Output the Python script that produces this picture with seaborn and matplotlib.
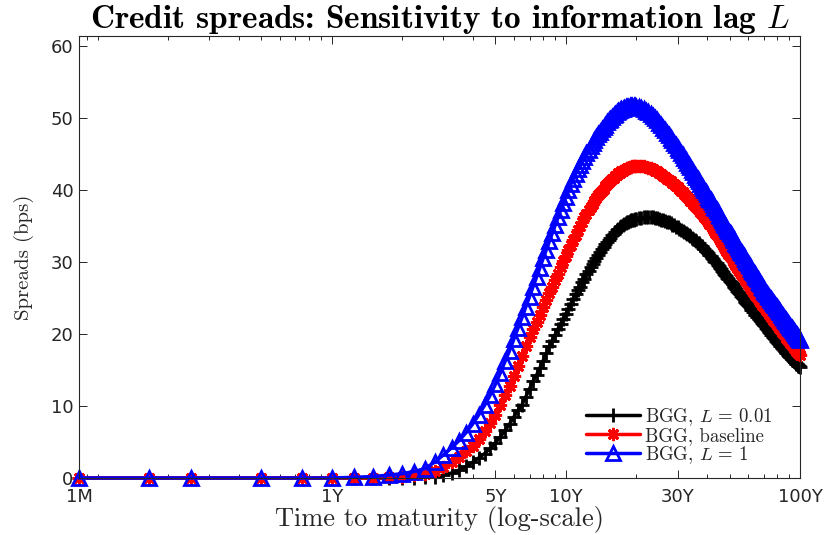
import numpy as np
import pandas as pd
import matplotlib
matplotlib.use("Agg")
import matplotlib.pyplot as plt
import seaborn as sns
from matplotlib.ticker import FixedLocator, FixedFormatter, LogLocator, NullFormatter

# ---------------- data (maturity grid in months, spreads in bps) ----------------
# grid: 1M, 2M, 3M, 6M, 9M, then quarterly to 20Y, then semi-annual to 100Y
months = [1, 2, 3, 6, 9] + list(range(12, 241, 3)) + list(range(246, 1201, 6))

spread_L001 = [
    # 1M .. 117M
    0, 0, 0, 0, 0, 0, 0, 0, 0, 0, 0, 0.1, 0.2, 0.4, 0.7, 1.1, 1.6, 2.2, 2.8, 3.4,
    4.1, 4.9, 5.7, 6.6, 7.5, 8.5, 9.4, 10.2, 11.3, 12.4, 13.5, 14.3, 15.3, 16.3, 17.3, 18.3,
    19.1, 19.9, 20.7, 21.4, 22.1,
    # 120M .. 240M (quarterly)
    22.8, 23.5, 24.2, 24.9, 25.5, 26.1, 26.6, 27.2, 27.7, 28.3,
    28.8, 29.3, 29.7, 30.2, 30.6, 31.0, 31.4, 31.8, 32.1, 32.5,
    32.8, 33.1, 33.4, 33.7, 33.9, 34.2, 34.4, 34.6, 34.8, 35.0,
    35.1, 35.3, 35.4, 35.5, 35.6, 35.7, 35.8, 35.9, 35.9, 36.0,
    36.0,
    # 20.5Y .. 100Y (semi-annual)
    36.1, 36.1, 36.2, 36.2, 36.2, 36.2, 36.2, 36.1, 36.1, 36.0,
    35.9, 35.8, 35.7, 35.6, 35.5, 35.4, 35.2, 35.1, 34.9, 34.8,
    34.6, 34.5, 34.3, 34.2, 34.0, 33.9, 33.7, 33.6, 33.4, 33.2,
    33.1, 32.9, 32.7, 32.6, 32.4, 32.2, 32.0, 31.8, 31.6, 31.4,
    31.2, 31.0, 30.8, 30.6, 30.4, 30.2, 30.0, 29.8, 29.6, 29.4,
    29.2, 29.0, 28.8, 28.6, 28.4, 28.2, 28.0, 27.8, 27.6, 27.4,
    27.2, 27.1, 26.9, 26.7, 26.5, 26.4, 26.2, 26.0, 25.8, 25.7,
    25.5, 25.3, 25.1, 25.0, 24.8, 24.6, 24.5, 24.3, 24.2, 24.0,
    23.9, 23.7, 23.6, 23.4, 23.3, 23.1, 23.0, 22.8, 22.7, 22.6,
    22.4, 22.3, 22.2, 22.1, 21.9, 21.8, 21.7, 21.6, 21.4, 21.3,
    21.2, 21.1, 20.9, 20.8, 20.7, 20.6, 20.4, 20.3, 20.2, 20.1,
    19.9, 19.8, 19.7, 19.6, 19.5, 19.4, 19.3, 19.1, 19.0, 18.9,
    18.8, 18.7, 18.6, 18.5, 18.4, 18.3, 18.2, 18.1, 18.0, 17.9,
    17.8, 17.7, 17.6, 17.5, 17.4, 17.3, 17.2, 17.1, 17.0, 16.9,
    16.8, 16.8, 16.7, 16.6, 16.5, 16.4, 16.4, 16.3, 16.2, 16.1,
    16.1, 16.0, 15.9, 15.8, 15.8, 15.7, 15.6, 15.5, 15.5, 15.4,
]

spread_base = [
    0, 0, 0, 0, 0, 0, 0, 0, 0.1, 0.2, 0.4, 0.6, 1.0, 1.5, 2.2, 2.9, 3.7, 4.4, 5.4, 6.5,
    7.6, 8.8, 10.1, 11.5, 12.8, 14.2, 15.6, 17.0, 18.4, 19.6, 20.7, 21.7, 22.7, 23.7, 24.7, 25.7,
    26.6, 27.5, 28.4, 29.3, 30.1,
    30.9, 31.7, 32.4, 33.1, 33.8, 34.4, 35.0, 35.6, 36.2, 36.7,
    37.2, 37.7, 38.1, 38.5, 38.9, 39.3, 39.6, 39.9, 40.2, 40.5,
    40.8, 41.1, 41.3, 41.5, 41.7, 41.9, 42.1, 42.3, 42.4, 42.6,
    42.7, 42.8, 42.9, 43.0, 43.1, 43.2, 43.2, 43.3, 43.3, 43.3,
    43.3,
    43.3, 43.3, 43.3, 43.2, 43.1, 43.0, 42.9, 42.7, 42.6, 42.4,
    42.2, 42.0, 41.8, 41.6, 41.4, 41.2, 41.0, 40.8, 40.6, 40.4,
    40.2, 39.9, 39.7, 39.4, 39.2, 39.0, 38.7, 38.5, 38.3, 38.1,
    37.8, 37.6, 37.4, 37.2, 36.9, 36.7, 36.5, 36.3, 36.0, 35.8,
    35.6, 35.3, 35.1, 34.8, 34.6, 34.3, 34.1, 33.8, 33.6, 33.3,
    33.1, 32.8, 32.6, 32.3, 32.1, 31.8, 31.6, 31.4, 31.1, 30.9,
    30.7, 30.5, 30.2, 30.0, 29.8, 29.6, 29.4, 29.2, 29.0, 28.8,
    28.6, 28.4, 28.2, 28.0, 27.9, 27.7, 27.5, 27.3, 27.2, 27.0,
    26.8, 26.6, 26.5, 26.3, 26.1, 25.9, 25.8, 25.6, 25.4, 25.3,
    25.1, 25.0, 24.8, 24.7, 24.5, 24.4, 24.3, 24.1, 24.0, 23.9,
    23.7, 23.6, 23.4, 23.3, 23.2, 23.0, 22.9, 22.8, 22.7, 22.5,
    22.4, 22.3, 22.2, 22.0, 21.9, 21.8, 21.7, 21.5, 21.4, 21.3,
    21.2, 21.0, 20.9, 20.8, 20.7, 20.5, 20.4, 20.3, 20.2, 20.1,
    20.0, 19.9, 19.8, 19.6, 19.5, 19.4, 19.3, 19.2, 19.1, 19.0,
    18.9, 18.8, 18.7, 18.6, 18.5, 18.4, 18.3, 18.2, 18.1, 18.0,
    17.9, 17.8, 17.7, 17.6, 17.5, 17.4, 17.3, 17.3, 17.2, 17.1,
]

spread_L1 = [
    0, 0, 0, 0, 0, 0, 0.1, 0.2, 0.4, 0.6, 0.9, 1.3, 2.2, 3.2, 4.2, 5.2, 6.3, 7.5, 8.8, 10.1,
    11.5, 13.0, 14.6, 16.2, 17.7, 19.3, 20.8, 22.3, 23.8, 25.2, 26.6, 27.9, 29.2, 30.5, 31.7, 32.9,
    34.0, 35.1, 36.2, 37.2, 38.2,
    39.1, 40.0, 40.8, 41.5, 42.2, 42.9, 43.5, 44.1, 44.6, 45.1,
    45.6, 46.1, 46.5, 47.0, 47.4, 47.8, 48.1, 48.5, 48.8, 49.1,
    49.4, 49.7, 49.9, 50.2, 50.4, 50.6, 50.8, 51.0, 51.1, 51.2,
    51.3, 51.4, 51.5, 51.6, 51.6, 51.7, 51.7, 51.7, 51.7, 51.7,
    51.6,
    51.5, 51.4, 51.2, 51.0, 50.8, 50.5, 50.3, 50.0, 49.7, 49.3,
    49.0, 48.6, 48.3, 47.9, 47.6, 47.2, 46.9, 46.5, 46.2, 45.8,
    45.5, 45.2, 44.8, 44.5, 44.2, 43.8, 43.5, 43.2, 42.8, 42.5,
    42.1, 41.8, 41.5, 41.2, 40.9, 40.6, 40.3, 40.0, 39.7, 39.4,
    39.1, 38.8, 38.6, 38.3, 38.0, 37.7, 37.5, 37.2, 36.9, 36.6,
    36.4, 36.1, 35.8, 35.6, 35.3, 35.1, 34.8, 34.6, 34.3, 34.1,
    33.9, 33.6, 33.4, 33.2, 33.0, 32.7, 32.5, 32.3, 32.1, 31.8,
    31.6, 31.4, 31.2, 31.0, 30.8, 30.6, 30.4, 30.2, 30.0, 29.8,
    29.6, 29.4, 29.2, 29.0, 28.8, 28.6, 28.5, 28.3, 28.1, 27.9,
    27.8, 27.6, 27.4, 27.2, 27.1, 26.9, 26.7, 26.5, 26.4, 26.2,
    26.0, 25.9, 25.7, 25.6, 25.5, 25.3, 25.2, 25.1, 24.9, 24.8,
    24.7, 24.6, 24.5, 24.3, 24.2, 24.1, 24.0, 23.8, 23.7, 23.6,
    23.5, 23.3, 23.2, 23.1, 23.0, 22.8, 22.7, 22.6, 22.5, 22.3,
    22.2, 22.1, 22.0, 21.9, 21.8, 21.7, 21.6, 21.4, 21.3, 21.2,
    21.1, 21.0, 20.9, 20.8, 20.7, 20.6, 20.5, 20.4, 20.3, 20.2,
    20.1, 20.0, 19.9, 19.8, 19.7, 19.6, 19.5, 19.4, 19.3, 19.2,
]

series_labels = [r"BGG, $L\,=\,0.01$", r"BGG, baseline", r"BGG, $L\,=\,1$"]
tick_years = [1 / 12, 1, 5, 10, 30, 100]
tick_labels = ["1M", "1Y", "5Y", "10Y", "30Y", "100Y"]
y_ticks = [0, 10, 20, 30, 40, 50, 60]

# ---------------- styling ----------------
sns.set_theme(style="ticks")
plt.rcParams.update({
    "font.family": ["DejaVu Sans"],
    "mathtext.fontset": "cm",
    "axes.edgecolor": "#262626",
    "axes.linewidth": 0.8,
    "xtick.color": "#262626",
    "ytick.color": "#262626",
    "xtick.direction": "in",
    "ytick.direction": "in",
    "xtick.top": True,
    "ytick.right": True,
    "xtick.major.size": 5.5,
    "ytick.major.size": 5.5,
    "xtick.minor.size": 2.8,
    "ytick.minor.size": 2.8,
    "xtick.major.width": 0.7,
    "xtick.minor.width": 0.7,
    "ytick.major.width": 0.7,
    "xtick.labelsize": 13,
    "ytick.labelsize": 13,
})

df = pd.DataFrame({
    "years": np.array(months) / 12.0,
    "L001": spread_L001,
    "base": spread_base,
    "L1": spread_L1,
})

fig = plt.figure(figsize=(8.4, 5.35), dpi=100)
ax = fig.add_axes([79 / 840, 1 - 478 / 535, (800 - 79) / 840, (478 - 36) / 535])

styles = [
    ("L001", series_labels[0], "#000000", "+", 9.5),
    ("base", series_labels[1], "#ff0000", (8, 2, 0), 9.5),
    ("L1", series_labels[2], "#0000ff", "^", 9.5),
]
for col, lab, color, mk, ms in styles:
    sns.lineplot(data=df, x="years", y=col, ax=ax, color=color, marker=mk, ms=ms,
                 mec=color, mew=2.0, mfc="none", lw=2.5, label=lab,
                 estimator=None, errorbar=None, clip_on=False)

ax.set_xscale("log")
ax.set_xlim(1 / 12, 100)
ax.set_ylim(0, 61.4)
ax.xaxis.set_major_locator(FixedLocator(tick_years))
ax.xaxis.set_major_formatter(FixedFormatter(tick_labels))
ax.xaxis.set_minor_locator(LogLocator(base=10, subs=np.arange(1, 10), numticks=50))
ax.xaxis.set_minor_formatter(NullFormatter())
ax.set_yticks(y_ticks)
ax.tick_params(axis="x", which="major", pad=7.5)
ax.tick_params(axis="y", which="major", pad=4)
for s in ax.spines.values():
    s.set_visible(True)

ax.set_xlabel("Time to maturity (log-scale)", family="cmr10", fontsize=19,
              color="#262626", labelpad=0)
ax.set_ylabel("Spreads (bps)", family="cmr10", fontsize=15, color="#262626", labelpad=12)
ax.set_title("Credit spreads: Sensitivity to information lag $L$", family="cmb10",
             fontsize=24, color="black", pad=3)

leg = ax.legend(loc="upper left", bbox_to_anchor=(586 / 840, 1 - 406 / 535),
                bbox_transform=fig.transFigure, frameon=False,
                prop={"family": "cmr10", "size": 13.5},
                handlelength=2.9, handletextpad=0.25, labelspacing=-0.05,
                borderpad=0, borderaxespad=0, numpoints=1)

fig.savefig("out.png", dpi=100)
